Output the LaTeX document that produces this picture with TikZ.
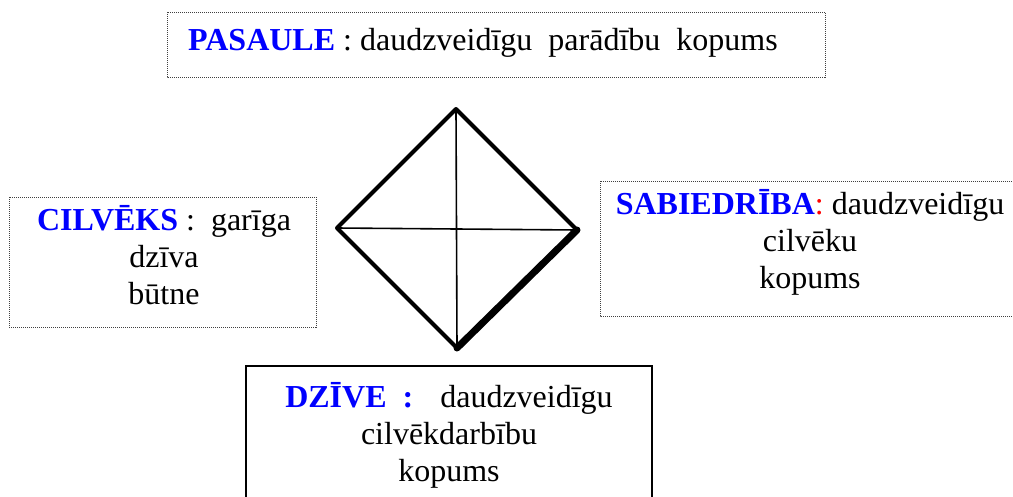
\documentclass[tikz,border=0pt]{standalone}
\usepackage{fontspec}
\setmainfont{Liberation Serif}
\definecolor{kwblue}{RGB}{0,0,255}
\definecolor{kwred}{RGB}{255,0,0}
\tikzset{
  dotbox/.style={draw=black!75, line width=1pt, dash pattern=on 1pt off 1pt},
  solidbox/.style={draw=black, line width=1.3pt},
  txt/.style={font=\fontsize{32}{37}\selectfont, align=center, inner sep=0pt},
  edge/.style={line width=4pt, line cap=round, line join=round},
  thickedge/.style={line width=7pt, line cap=round},
  diag/.style={line width=1.6pt}
}
\newcommand{\kw}[1]{\textcolor{kwblue}{\textbf{#1}}}
\begin{document}
\begin{tikzpicture}[x=1pt,y=-1pt]
\useasboundingbox (0,0) rectangle (1013,496);
% boxes
\draw[dotbox] (167,12) rectangle (825,77);
\draw[dotbox] (9,197) rectangle (316,327);
\draw[dotbox] (600,181) rectangle (1030,316);
\draw[solidbox] (246,366) rectangle (652,510);
% texts (base anchor = baseline of the last line)
\node[txt, anchor=base west] (pasaule) at (188,50) {\kw{PASAULE} : daudzveidīgu\ \ parādību\ \ kopums};
\node[txt, anchor=base] (cilveks) at (164,304) {\kw{CILVĒKS} :\ \ garīga\\dzīva\\būtne};
\node[txt, anchor=base] (sabiedriba) at (810,288) {\kw{SABIEDRĪBA}\textcolor{kwred}{:} daudzveidīgu\\cilvēku\\kopums};
\node[txt, anchor=base] (dzive) at (449,481) {\kw{DZĪVE}\ \ \textcolor{kwblue}{\textbf{:}}\hspace{27pt}daudzveidīgu\\cilvēkdarbību\\kopums};
% diamond
\coordinate (T) at (456,109);
\coordinate (L) at (337,228);
\coordinate (R) at (577,230);
\coordinate (B) at (457,348);
\draw[diag] (T) -- (B);
\draw[diag] (L) -- (R);
\draw[edge] (B) -- (L) -- (T) -- (R);
\draw[thickedge] (R) -- (B);
\end{tikzpicture}
\end{document}
